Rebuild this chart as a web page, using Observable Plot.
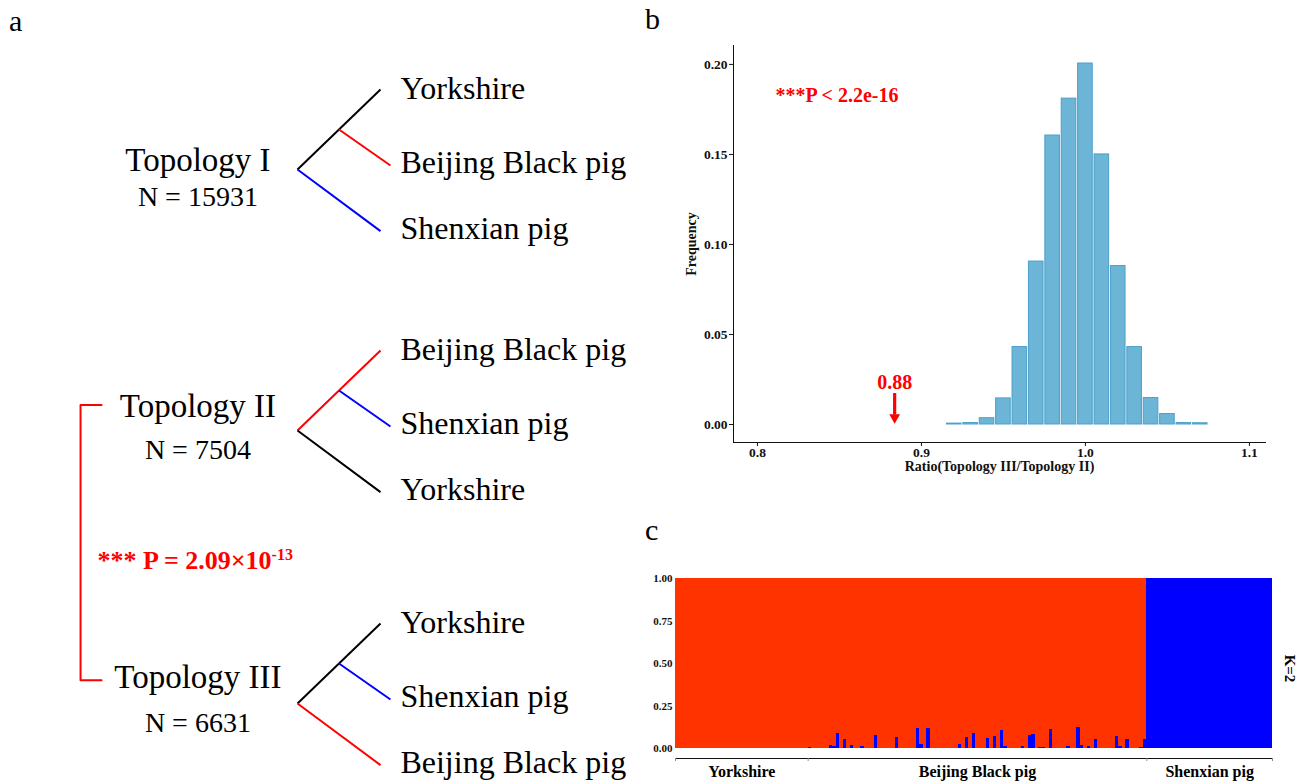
<!DOCTYPE html>
<html>
<head>
<meta charset="utf-8">
<script src="https://cdn.jsdelivr.net/npm/d3@7"></script>
<script src="https://cdn.jsdelivr.net/npm/@observablehq/plot@0.6"></script>
<style>
  body { margin: 0; background: #fff; }
  #fig { position: relative; width: 1308px; height: 782px; overflow: hidden; background: #fff;
         font-family: "Liberation Serif", "Times New Roman", Times, serif; }
  .panel { position: absolute; }
  .plabel { position: absolute; font-size: 30px; line-height: 30px; color: #000; }
  #pc svg [aria-label^="x-axis"] { color: #8a8a8a; }
</style>
</head>
<body>
<div id="fig">
  <div class="plabel" style="left:9px;top:6px">a</div>
  <div class="plabel" style="left:645px;top:4px">b</div>
  <div class="plabel" style="left:645px;top:515px">c</div>
  <div id="pa" class="panel" style="left:0;top:0"></div>
  <div id="pb" class="panel" style="left:640px;top:30px"></div>
  <div id="pc" class="panel" style="left:640px;top:560px"></div>
</div>
<script>
// ---------------- DATA ----------------
// Panel a: gene-tree topologies
const topologyNames = ["Topology I", "Topology II", "Topology III"];
const topologyCounts = [15931, 7504, 6631];
const topologyLeaves = [
  ["Yorkshire", "Beijing Black pig", "Shenxian pig"],
  ["Beijing Black pig", "Shenxian pig", "Yorkshire"],
  ["Yorkshire", "Shenxian pig", "Beijing Black pig"]
];
const breeds = ["Yorkshire", "Beijing Black pig", "Shenxian pig"];
const breedColors = ["#000000", "#ff0000", "#0000ff"];
const comparisonText = "*** P = 2.09×10";
const comparisonExponent = "-13";

// Panel b: permutation distribution of Topology III / Topology II ratio
const ratioBins = [0.92, 0.93, 0.94, 0.95, 0.96, 0.97, 0.98, 0.99, 1.00, 1.01, 1.02, 1.03, 1.04, 1.05, 1.06, 1.07];
const ratioFrequency = [0.0005, 0.0008, 0.0035, 0.0145, 0.043, 0.0905, 0.1605, 0.181, 0.2005, 0.150, 0.088, 0.043, 0.0147, 0.0058, 0.0008, 0.0007];
const ratioTicks = [0.8, 0.9, 1.0, 1.1];
const frequencyTicks = [0, 0.05, 0.10, 0.15, 0.20];
const permutationText = "***P < 2.2e-16";

// Panel c: ADMIXTURE K=2 (blue ancestry proportion per individual)
const groupNames = ["Yorkshire", "Beijing Black pig", "Shenxian pig"];
const yorkshireBlue = [0,0,0,0,0,0,0,0,0,0, 0,0,0,0,0,0,0,0,0,0, 0,0,0,0,0,0,0,0,0,0, 0,0,0,0,0,0,0,0];
const beijingBlue = [
  0.008,0,0,0,0,0,0.018,0.01,0.086,0,
  0.055,0,0.016,0,0,0.01,0,0,0,0.075,
  0,0,0,0,0,0.067,0,0,0,0,
  0,0.116,0.025,0,0.12,0,0,0,0,0,
  0,0,0,0.022,0,0.067,0,0.086,0,0,
  0,0.057,0,0.069,0,0.104,0.01,0,0,0,
  0,0.01,0,0.075,0.085,0,0.005,0.005,0,0.11,
  0,0,0,0,0.01,0,0,0.125,0.016,0,
  0.014,0,0.053,0,0,0,0,0,0.073,0.01,
  0,0.053,0,0,0,0.006,0.053
];
const shenxianBlue = [1,1,1,1,1,1,1,1,1,1, 1,1,1,1,1,1,1,1,1,1, 1,1,1,1,1,1,1,1,1,1, 1,1,1,1,1,1];
const ancestryTicks = [0, 0.25, 0.50, 0.75, 1.00];
const kLabel = "K=2";

// ---------------- LAYOUT (not data) ----------------
const serif = '"Liberation Serif", "Times New Roman", Times, serif';

// ---------------- PANEL A ----------------
const aUnitX = 83, aRootX = 297, aUnitY = 80, aRootY = 169, aW = 640, aH = 782;
const rowY = [0, 3.2625, 6.675];
const nodePos = {root: [0, 0], inner: [0.5, -0.5], top: [1, -1], mid: [1.12, -0.05], bottom: [1, 0.77]};
const leafLabelDy = [-1.01, -0.09, 0.74];
const topoLabelDy = [-0.11, -0.3, -0.32];
const nLabelDy = [0.35, 0.25, 0.25];
const labelColX = -1.2, leafColX = 1.24;

const branches = [];
const leafLabels = [];
const topoLabels = [];
const nLabels = [];
topologyLeaves.forEach((leaves, k) => {
  const col = leaves.map(b => breedColors[breeds.indexOf(b)]);
  const P = n => [nodePos[n][0], rowY[k] + nodePos[n][1]];
  const seg = (a, b, color) => branches.push({x1: P(a)[0], y1: P(a)[1], x2: P(b)[0], y2: P(b)[1], color});
  seg("root", "inner", col[0]);
  seg("inner", "top", col[0]);
  seg("inner", "mid", col[1]);
  seg("root", "bottom", col[2]);
  leaves.forEach((leaf, j) => leafLabels.push({x: leafColX, y: rowY[k] + leafLabelDy[j], text: leaf}));
  topoLabels.push({x: labelColX, y: rowY[k] + topoLabelDy[k], text: topologyNames[k]});
  nLabels.push({x: labelColX, y: rowY[k] + nLabelDy[k], text: "N = " + topologyCounts[k]});
});
const bracketX0 = -2.614, bracketX1 = -2.361;
const bTop = rowY[1] + topoLabelDy[1] - 0.02, bBot = rowY[2] + topoLabelDy[2] + 0.03;
const bracket = [
  {x: bracketX1, y: bTop}, {x: bracketX0, y: bTop}, {x: bracketX0, y: bBot}, {x: bracketX1, y: bBot}
];
const comparison = [{x: -2.41, y: (rowY[1] + rowY[2]) / 2 - 0.08, text: comparisonText}];

const pa = Plot.plot({
  width: aW, height: aH, margin: 0,
  x: {domain: [-aRootX / aUnitX, (aW - aRootX) / aUnitX], axis: null},
  y: {domain: [-aRootY / aUnitY, (aH - aRootY) / aUnitY], reverse: true, axis: null},
  style: {fontFamily: serif, background: "transparent", overflow: "visible", color: "#000"},
  marks: [
    Plot.link(branches, {x1: "x1", y1: "y1", x2: "x2", y2: "y2", stroke: "color", strokeWidth: 2}),
    Plot.line(bracket, {x: "x", y: "y", stroke: "#ff0000", strokeWidth: 2}),
    Plot.text(leafLabels, {x: "x", y: "y", text: "text", textAnchor: "start", fontSize: 32, fill: "#000"}),
    Plot.text(topoLabels, {x: "x", y: "y", text: "text", fontSize: 33, fill: "#000"}),
    Plot.text(nLabels, {x: "x", y: "y", text: "text", fontSize: 28, fill: "#000"}),
    Plot.text(comparison, {x: "x", y: "y", text: "text", textAnchor: "start", fontSize: 26, fontWeight: "bold", fill: "#ff0000"})
  ]
});
d3.select(pa).selectAll("text")
  .filter(function () { return this.textContent === comparisonText; })
  .append("tspan").attr("font-size", 16).attr("dy", -9).text(comparisonExponent);
document.getElementById("pa").appendChild(pa);

// ---------------- PANEL B ----------------
const bins = ratioBins.map((c, i) => ({x1: c - 0.005, x2: c + 0.005, f: ratioFrequency[i]}));
const observedRatio = topologyCounts[2] / topologyCounts[1];

const pb = Plot.plot({
  width: 640, height: 460, marginLeft: 93, marginRight: 15, marginTop: 15, marginBottom: 48,
  style: {fontFamily: serif, fontWeight: "bold", fontSize: "14px", color: "#111", background: "transparent", overflow: "visible"},
  x: {domain: [0.7854, 1.1098], ticks: ratioTicks, tickFormat: ".1f", tickSize: 4, tickPadding: 1, line: true,
      label: "Ratio(Topology III/Topology II)", labelAnchor: "center", labelOffset: 28, labelArrow: false},
  y: {domain: [-0.01, 0.2105], ticks: frequencyTicks, tickFormat: ".2f", tickSize: 4, tickPadding: 2, line: true,
      label: "Frequency", labelAnchor: "center", labelOffset: 47, labelArrow: false},
  marks: [
    Plot.rect(bins, {x1: "x1", x2: "x2", y1: 0, y2: "f", fill: "#6db5d6", stroke: "#4b9fcb", strokeWidth: 1, insetLeft: 0.9, insetRight: 0.9}),
    Plot.ruleX([observedRatio], {x: d => d, y1: 0.0172, y2: 0.0052, stroke: "#ff0000", strokeWidth: 3.2}),
    Plot.dot([observedRatio], {x: d => d, y: 0.0039, symbol: "triangle", rotate: 180, r: 4, fill: "#ff0000", stroke: "none"}),
    Plot.text([observedRatio], {x: d => d, y: 0.0233, text: d => d3.format(".2f")(d), fill: "#ff0000", fontSize: 20}),
    Plot.text([permutationText], {x: 0.811, y: 0.1827, text: d => d, textAnchor: "start", fill: "#ff0000", fontSize: 20})
  ]
});
d3.select(pb).selectAll('[aria-label$="tick label"]').style("font-size", "13.5px").attr("font-size", 13.5);
d3.select(pb).selectAll('[aria-label$="axis label"]').style("font-size", "14px").attr("font-size", 14);
document.getElementById("pb").appendChild(pb);

// ---------------- PANEL C ----------------
const groupsBlue = [yorkshireBlue, beijingBlue, shenxianBlue];
const individuals = [];
const boundaries = [0];
groupsBlue.forEach((arr, g) => {
  arr.forEach(q => individuals.push({i: individuals.length, g, q}));
  boundaries.push(individuals.length);
});
const total = individuals.length;
const groups = groupNames.map((name, g) => ({name, mid: (boundaries[g] + boundaries[g + 1]) / 2}));

const pc = Plot.plot({
  width: 668, height: 222, marginLeft: 35, marginRight: 36, marginTop: 18, marginBottom: 24, insetBottom: 10,
  style: {fontFamily: serif, fontWeight: "bold", fontSize: "10.5px", color: "#111", background: "transparent", overflow: "visible"},
  x: {domain: [0, total], ticks: boundaries, tickFormat: () => "", tickSize: 3, line: true, label: null},
  y: {domain: [0, 1], ticks: ancestryTicks, tickFormat: ".2f", tickSize: 0, tickPadding: 3, label: null},
  marks: [
    Plot.rect(individuals, {x1: "i", x2: d => d.i + 1, y1: "q", y2: 1, fill: "#ff3300", shapeRendering: "crispEdges"}),
    Plot.rect(individuals, {x1: "i", x2: d => d.i + 1, y1: 0, y2: "q", fill: "#0000ff", shapeRendering: "crispEdges"}),
    Plot.text(groups, {x: "mid", text: "name", frameAnchor: "bottom", lineAnchor: "middle", textAnchor: "middle", dy: 13.5, fontSize: 16, fill: "#000"}),
    Plot.text([kLabel], {text: d => d, frameAnchor: "right", textAnchor: "middle", lineAnchor: "middle", dx: 17, rotate: 90, fontSize: 15, fill: "#000"})
  ]
});
d3.select(pc).selectAll('[aria-label$="tick label"]').style("font-size", "11px").attr("font-size", 11);
document.getElementById("pc").appendChild(pc);
</script>
</body>
</html>
